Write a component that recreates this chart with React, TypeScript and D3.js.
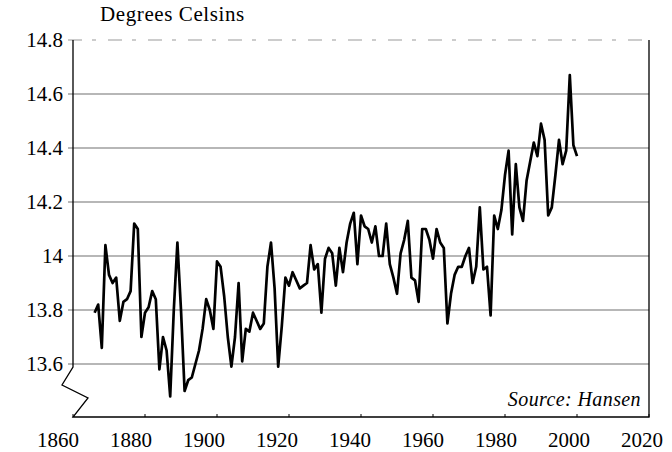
import React from "react";
import * as d3 from "d3";

const years: number[] = d3.range(1866, 2001);
const temps: number[] = [
  13.79, 13.82, 13.66, 14.04, 13.93, 13.9, 13.92, 13.76, 13.83, 13.84, // 1866-1875
  13.87, 14.12, 14.1, 13.7, 13.79, 13.81, 13.87, 13.84, 13.58, 13.7, // 1876-1885
  13.65, 13.48, 13.8, 14.05, 13.8, 13.5, 13.54, 13.55, 13.6, 13.65, // 1886-1895
  13.73, 13.84, 13.8, 13.73, 13.98, 13.96, 13.85, 13.7, 13.59, 13.7, // 1896-1905
  13.9, 13.61, 13.73, 13.72, 13.79, 13.76, 13.73, 13.75, 13.96, 14.05, // 1906-1915
  13.88, 13.59, 13.74, 13.92, 13.89, 13.94, 13.91, 13.88, 13.89, 13.9, // 1916-1925
  14.04, 13.95, 13.97, 13.79, 13.99, 14.03, 14.01, 13.89, 14.03, 13.94, // 1926-1935
  14.05, 14.12, 14.16, 13.97, 14.15, 14.11, 14.1, 14.05, 14.11, 14.0, // 1936-1945
  14.0, 14.12, 13.97, 13.92, 13.86, 14.01, 14.06, 14.13, 13.92, 13.91, // 1946-1955
  13.83, 14.1, 14.1, 14.06, 13.99, 14.1, 14.05, 14.03, 13.75, 13.86, // 1956-1965
  13.93, 13.96, 13.96, 14.0, 14.03, 13.9, 13.96, 14.18, 13.95, 13.96, // 1966-1975
  13.78, 14.15, 14.1, 14.17, 14.3, 14.39, 14.08, 14.34, 14.18, 14.13, // 1976-1985
  14.28, 14.35, 14.42, 14.37, 14.49, 14.43, 14.15, 14.18, 14.3, 14.43, // 1986-1995
  14.34, 14.39, 14.67, 14.41, 14.37, // 1996-2000
];
const yTicks: number[] = [13.6, 13.8, 14, 14.2, 14.4, 14.6, 14.8];
const xTicks: number[] = [1860, 1880, 1900, 1920, 1940, 1960, 1980, 2000, 2020];
const titleText = "Degrees Celsins";
const sourceText = "Source: Hansen";

const W = 672;
const H = 452;
const left = 73;
const right = 649;
const top = 40;
const bottomAxis = 417;
const FONT = "Liberation Serif";

export default function App() {
  const x = d3.scaleLinear().domain([1860, 2020]).range([left, right]);
  const xLabel = d3.scaleLinear().domain([1860, 2020]).range([58, 642]);
  const y = d3.scaleLinear().domain([13.6, 14.8]).range([364, top]);
  const line = d3
    .line<number>()
    .x((_, i) => x(years[i]))
    .y((d) => y(d))
    .curve(d3.curveLinear);
  const y136 = y(13.6);
  const zig = `M${left},${top} L${left},${y136 + 3} L${left - 11},${y136 + 21} L${left + 15},${y136 + 34} L${left},${bottomAxis} L${right},${bottomAxis} L${right},${top}`;
  return (
    <svg width={W} height={H} style={{ position: "absolute", left: 0, top: 0, background: "#fff" }}>
      <rect x={0} y={0} width={W} height={H} fill="#fff" />
      {yTicks.map((t) => (
        <line
          key={"g" + t}
          x1={left - 5}
          x2={right}
          y1={y(t)}
          y2={y(t)}
          stroke={t === 14.8 ? "#999" : "#707070"}
          strokeWidth={1.2}
          strokeDasharray={t === 14.8 ? "14 10 4 12" : undefined}
        />
      ))}
      <path d={zig} fill="none" stroke="#000" strokeWidth={1.3} />
      {xTicks.map((t) => (
        <line key={"xt" + t} x1={x(t)} x2={x(t)} y1={bottomAxis} y2={bottomAxis - 3} stroke="#000" strokeWidth={1} />
      ))}
      <path d={line(temps) || ""} fill="none" stroke="#000" strokeWidth={2.7} strokeLinejoin="round" />
      {yTicks.map((t) => (
        <text
          key={"yl" + t}
          x={left - 10}
          y={y(t)}
          dy="0.35em"
          textAnchor="end"
          fontFamily={FONT}
          fontSize={21}
          fill="#000"
        >
          {d3.format("~g")(t)}
        </text>
      ))}
      {xTicks.map((t) => (
        <text key={"xl" + t} x={xLabel(t)} y={447} textAnchor="middle" fontFamily={FONT} fontSize={21} fill="#000">
          {t}
        </text>
      ))}
      <text x={100} y={21} fontFamily={FONT} fontSize={21} letterSpacing={0.6} fill="#000">
        {titleText}
      </text>
      <text x={641} y={406} textAnchor="end" fontFamily={FONT} fontStyle="italic" fontSize={20} letterSpacing={0.4} fill="#000">
        {sourceText}
      </text>
    </svg>
  );
}
